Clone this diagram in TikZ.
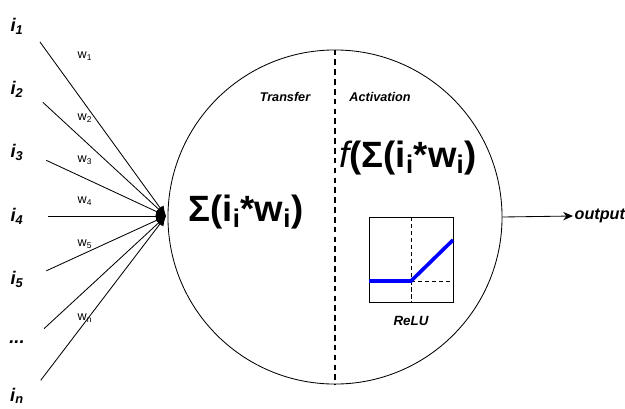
\documentclass[tikz,border=0pt]{standalone}
\usepackage{fontspec}
\setmainfont{Liberation Sans}
\usetikzlibrary{arrows.meta}

\begin{document}
\begin{tikzpicture}[
  x=0.025cm,y=-0.025cm,
  every node/.style={font=\normalsize},
  inlabel/.style={font=\fontsize{13}{15}\selectfont\bfseries\itshape},
  wlabel/.style={font=\fontsize{9}{11}\selectfont},
  small/.style={font=\fontsize{9}{11}\selectfont\bfseries\itshape},
  big/.style={font=\fontsize{26}{30}\selectfont\bfseries},
  input/.style={line width=0.6pt,-{Latex[length=7pt,width=6pt]},shorten <=14pt},
  outarrow/.style={line width=0.6pt,-{Stealth[length=7pt,width=6pt]}}
]
  \useasboundingbox (0,0) rectangle (625,408);

  % Neuron
  \node[draw,circle,line width=0.6pt,minimum size=8.35cm,inner sep=0pt]
    (neuron) at (335,217) {};
  \draw[dash pattern=on 4pt off 3pt,line width=1pt] (neuron.north) -- (neuron.south);
  \coordinate (sum) at (166,216);

  % Eingaben
  \node[inlabel] (i1) at (17,26)  {i\textsubscript{1}};
  \node[inlabel] (i2) at (17,89)  {i\textsubscript{2}};
  \node[inlabel] (i3) at (17,152) {i\textsubscript{3}};
  \node[inlabel] (i4) at (17,216) {i\textsubscript{4}};
  \node[inlabel] (i5) at (17,279) {i\textsubscript{5}};
  \node[inlabel] (idots) at (17,342) {...};
  \node[inlabel] (in) at (17,396) {i\textsubscript{n}};

  \foreach \src in {i1,i2,i3,i4,i5,idots,in}
    \draw[input] (\src.east) -- (sum);

  % Gewichte
  \node[wlabel] (w1) at (85,56)  {w\textsubscript{1}};
  \node[wlabel] (w2) at (85,118) {w\textsubscript{2}};
  \node[wlabel] (w3) at (85,160) {w\textsubscript{3}};
  \node[wlabel] (w4) at (85,201) {w\textsubscript{4}};
  \node[wlabel] (w5) at (85,244) {w\textsubscript{5}};
  \node[wlabel] (wn) at (85,318) {w\textsubscript{n}};

  % Transfer / Activation
  \node[small] (transfer) at (285,97) {Transfer};
  \node[small] (activation) at (380,97) {Activation};
  \node[big] (sigma) at (246,212)
    {Σ(i\textsubscript{i}*w\textsubscript{i})};
  \node[big] (act) at (408,158)
    {{\mdseries\itshape f}(Σ(i\textsubscript{i}*w\textsubscript{i})};

  % ReLU
  \draw[line width=0.6pt] (369,217) rectangle (453,302);
  \draw[densely dashed,line width=0.6pt] (411,217) -- (411,302);
  \draw[densely dashed,line width=0.6pt] (411,281) -- (453,281);
  \draw[blue,line width=2.6pt] (369,281) -- (411,281) -- (453,240);
  \node[small,font=\fontsize{9.5}{11}\selectfont\bfseries\itshape]
    (relu) at (411,321) {ReLU};

  % Ausgabe
  \node[anchor=west,inner sep=1pt,font=\fontsize{11.5}{13}\selectfont\bfseries\itshape]
    (out) at (573,216) {output};
  \draw[outarrow] (neuron.east) -- (out.west);
\end{tikzpicture}
\end{document}
